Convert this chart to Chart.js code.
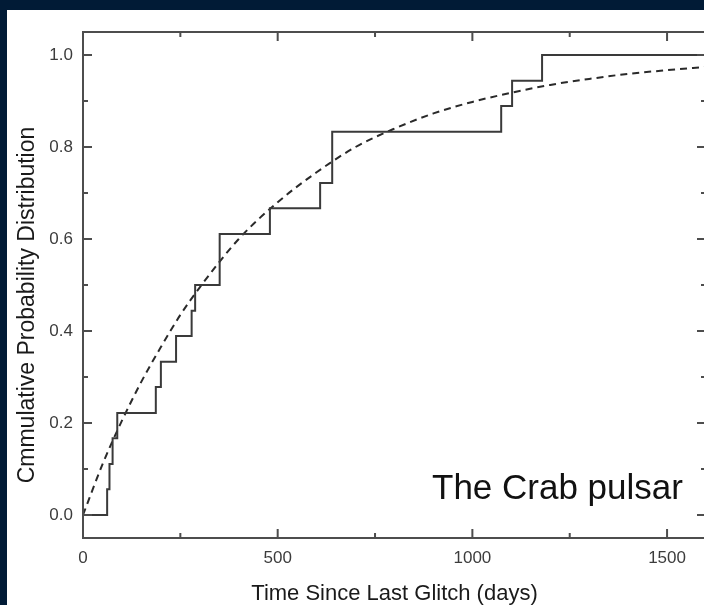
<!DOCTYPE html>
<html>
<head>
<meta charset="utf-8">
<title>Crab pulsar glitch intervals</title>
<script src="https://cdn.jsdelivr.net/npm/chart.js@4.4.1/dist/chart.umd.min.js"></script>
<style>
  html, body { margin: 0; padding: 0; background: #011b36; overflow: hidden; }
  #panel { position: absolute; left: 7px; top: 10px; width: 697px; height: 595px; background: #fff; overflow: hidden; }
</style>
</head>
<body>
<div id="panel"><canvas id="crabChart" width="704" height="595"></canvas></div>
<script>
// observed waiting times between glitches (days) and the cumulative fraction
var stepDays = [0, 62, 68, 76, 88, 187, 200, 239, 279, 288, 351, 480, 609, 640, 1074, 1102, 1179, 1600];
var stepCdf  = [0, 0.056, 0.111, 0.167, 0.222, 0.278, 0.333, 0.389, 0.444, 0.5, 0.611, 0.667, 0.722, 0.833, 0.889, 0.944, 1.0, 1.0];

// fitted curve (dashed)
var fitDays = [0, 50, 100, 150, 200, 250, 300, 400, 500, 600, 700, 800, 900, 1000, 1100, 1200, 1300, 1400, 1500, 1600];
var fitCdf  = [0, 0.11, 0.205, 0.29, 0.365, 0.435, 0.495, 0.60, 0.68, 0.745, 0.80, 0.84, 0.873, 0.898, 0.918, 0.935, 0.948, 0.959, 0.967, 0.974];

// axis ticks
var xMajorTicks = [0, 500, 1000, 1500];
var xMinorTicks = [250, 750, 1250];
var yMajorTicks = [0, 0.2, 0.4, 0.6, 0.8, 1.0];
var yMinorTicks = [0.1, 0.3, 0.5, 0.7, 0.9];

var xTitle = 'Time Since Last Glitch (days)';
var yTitle = 'Cmmulative Probability Distribution';
var tagText = 'The Crab pulsar';

var fontFamily = '"Liberation Sans", Arial, Helvetica, sans-serif';

function toPoints(xs, ys) {
  var pts = [];
  for (var i = 0; i < xs.length; i++) {
    pts.push({ x: xs[i], y: ys[i] });
  }
  return pts;
}

function isMajor(list, v) {
  for (var i = 0; i < list.length; i++) {
    if (Math.abs(list[i] - v) < 1e-6) return true;
  }
  return false;
}

// box frame with inward ticks on all four sides, plus the free text
var framePlugin = {
  id: 'frame',
  afterDatasetsDraw: function(chart) {
    var ctx = chart.ctx;
    var a = chart.chartArea;
    var xs = chart.scales.x, ys = chart.scales.y;
    ctx.save();
    ctx.strokeStyle = '#4d4d4d';
    ctx.lineWidth = 2;
    ctx.strokeRect(a.left, a.top, a.right - a.left, a.bottom - a.top);

    ctx.beginPath();
    function xTick(v, len) {
      var px = xs.getPixelForValue(v);
      ctx.moveTo(px, a.bottom); ctx.lineTo(px, a.bottom - len);
      ctx.moveTo(px, a.top); ctx.lineTo(px, a.top + len);
    }
    function yTick(v, len) {
      var py = ys.getPixelForValue(v);
      ctx.moveTo(a.left, py); ctx.lineTo(a.left + len, py);
      ctx.moveTo(a.right, py); ctx.lineTo(a.right - len, py);
    }
    xMajorTicks.forEach(function(v) { xTick(v, 9); });
    xMinorTicks.forEach(function(v) { xTick(v, 5); });
    yMajorTicks.forEach(function(v) { yTick(v, 9); });
    yMinorTicks.forEach(function(v) { yTick(v, 5); });
    ctx.stroke();

    // rotated y title
    ctx.fillStyle = '#1a1a1a';
    ctx.font = '23px ' + fontFamily;
    ctx.textAlign = 'center';
    ctx.textBaseline = 'alphabetic';
    ctx.translate(27, (a.top + a.bottom) / 2 + 20);
    ctx.rotate(-Math.PI / 2);
    ctx.fillText(yTitle, 0, 0);
    ctx.restore();

    ctx.save();
    ctx.fillStyle = '#111';
    ctx.font = '35px ' + fontFamily;
    ctx.textAlign = 'left';
    ctx.textBaseline = 'alphabetic';
    ctx.fillText(tagText, a.right - 274, a.bottom - 39);
    ctx.restore();
  }
};

var tickFont = { family: fontFamily, size: 17 };

var ctx = document.getElementById('crabChart');
var crabChart = new Chart(ctx, {
  type: 'scatter',
  data: {
    datasets: [
      {
        label: 'observed',
        data: toPoints(stepDays, stepCdf),
        showLine: true,
        stepped: true,
        borderColor: '#3a3a3a',
        borderWidth: 2,
        pointRadius: 0,
        fill: false
      },
      {
        label: 'fit',
        data: toPoints(fitDays, fitCdf),
        showLine: true,
        cubicInterpolationMode: 'monotone',
        borderColor: '#2a2a2a',
        borderWidth: 2,
        borderDash: [7, 5],
        pointRadius: 0,
        fill: false
      }
    ]
  },
  options: {
    responsive: false,
    animation: false,
    layout: { padding: { top: 22, right: 5, left: 0, bottom: 0 } },
    plugins: {
      legend: { display: false },
      tooltip: { enabled: false }
    },
    scales: {
      x: {
        type: 'linear',
        min: 0,
        max: 1600,
        afterBuildTicks: function(axis) {
          axis.ticks = xMajorTicks.concat(xMinorTicks).sort(function(p, q) { return p - q; })
            .map(function(v) { return { value: v }; });
        },
        afterFit: function(axis) { axis.height = 67; },
        grid: { display: false, drawTicks: false },
        border: { display: false },
        ticks: {
          font: tickFont,
          color: '#3c3c3c',
          padding: 10,
          maxRotation: 0,
          autoSkip: false,
          callback: function(v) { return isMajor(xMajorTicks, v) ? String(v) : ''; }
        },
        title: {
          display: true,
          text: xTitle,
          color: '#1a1a1a',
          font: { family: fontFamily, size: 22, lineHeight: 1 },
          padding: { top: 0, bottom: 0 }
        }
      },
      y: {
        type: 'linear',
        min: -0.05,
        max: 1.05,
        afterBuildTicks: function(axis) {
          axis.ticks = yMajorTicks.concat(yMinorTicks).sort(function(p, q) { return p - q; })
            .map(function(v) { return { value: v }; });
        },
        afterFit: function(axis) { axis.width = 76; },
        grid: { display: false, drawTicks: false },
        border: { display: false },
        ticks: {
          font: tickFont,
          color: '#3c3c3c',
          padding: 10,
          autoSkip: false,
          callback: function(v) { return isMajor(yMajorTicks, v) ? v.toFixed(1) : ''; }
        }
      }
    }
  },
  plugins: [framePlugin]
});
</script>
</body>
</html>
